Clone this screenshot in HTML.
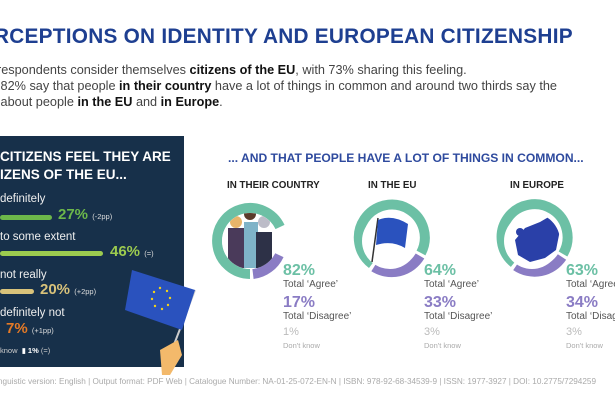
<!DOCTYPE html>
<html><head><meta charset="utf-8"><style>
body{margin:0;width:615px;height:410px;overflow:hidden;background:#fff;font-family:"Liberation Sans",sans-serif;position:relative}
.a{position:absolute;white-space:nowrap}
.t{font-size:20.8px;font-weight:bold;color:#1e3f91;left:-6px;top:25px;letter-spacing:0.25px}
.b{font-size:12.7px;color:#444;left:-3px}
.b b{color:#111}
.panel{left:0;top:136px;width:184px;height:231px;background:#17304a}
.pt{color:#fff;font-weight:bold;font-size:13.5px}
.lab{color:#eee;font-size:11.5px}
.bar{height:5px;border-radius:3px;left:0}
.pct{font-weight:bold;font-size:15px}
.sm{font-size:7.5px;color:#ddd;font-weight:normal}
.h2{color:#2e4a9e;font-weight:bold;font-size:12.1px;left:228px;top:151px}
.h3{font-weight:bold;font-size:9.8px;color:#222;top:180px}
.big{font-weight:bold;font-size:16px}
.tl{font-size:10px;color:#555}
.dk{font-size:7.5px;color:#aaa}
.foot{left:-2px;top:377px;font-size:8.2px;color:#aaa}
</style></head><body>
<div class="a t">RCEPTIONS ON IDENTITY AND EUROPEAN CITIZENSHIP</div>
<div class="a b" style="top:63px">respondents consider themselves <b>citizens of the EU</b>, with 73% sharing this feeling.</div>
<div class="a b" style="top:79px">&nbsp;82% say that people <b>in their country</b> have a lot of things in common and around two thirds say the</div>
<div class="a b" style="top:95px">&nbsp;about people <b>in the EU</b> and <b>in Europe</b>.</div>

<div class="a panel"></div>
<div class="a pt" style="left:0;top:149px">CITIZENS FEEL THEY ARE</div>
<div class="a pt" style="left:0;top:167px">IZENS OF THE EU...</div>
<div class="a lab" style="left:0;top:193px">definitely</div>
<div class="a bar" style="top:215px;width:52px;background:#6cb74a"></div>
<div class="a pct" style="left:58px;top:206px;color:#6cb74a">27% <span class="sm">(-2pp)</span></div>
<div class="a lab" style="left:0;top:231px">to some extent</div>
<div class="a bar" style="top:251px;width:103px;background:#9ccb4f"></div>
<div class="a pct" style="left:110px;top:243px;color:#9ccb4f">46% <span class="sm">(=)</span></div>
<div class="a lab" style="left:0;top:269px">not really</div>
<div class="a bar" style="top:289px;width:34px;background:#d8c27a"></div>
<div class="a pct" style="left:40px;top:281px;color:#d8c27a">20% <span class="sm">(+2pp)</span></div>
<div class="a lab" style="left:0;top:307px">definitely not</div>
<div class="a pct" style="left:6px;top:320px;color:#e57a26">7% <span class="sm">(+1pp)</span></div>
<div class="a" style="left:0;top:346px;font-size:7.5px;color:#ccc">know &nbsp;<span style="color:#fff">▮ <b>1%</b></span> (=)</div>
<svg class="a" style="left:120px;top:260px" width="80" height="120">
<line x1="75" y1="30" x2="50" y2="95" stroke="#ccc" stroke-width="2"/>
<polygon points="12,10 75,30 62,70 5,50" fill="#2a52be"/>
<g fill="#f2d21a"><circle cx="40" cy="28" r="1.2"/><circle cx="47" cy="31" r="1.2"/><circle cx="50" cy="38" r="1.2"/><circle cx="48" cy="45" r="1.2"/><circle cx="42" cy="49" r="1.2"/><circle cx="35" cy="46" r="1.2"/><circle cx="32" cy="39" r="1.2"/><circle cx="34" cy="32" r="1.2"/></g>
<path d="M40 90 L58 80 L62 95 L50 115 L42 115 Z" fill="#f3b96b"/>
</svg>

<div class="a h2">... AND THAT PEOPLE HAVE A LOT OF THINGS IN COMMON...</div>
<div class="a h3" style="left:227px">IN THEIR COUNTRY</div>
<div class="a h3" style="left:368px">IN THE EU</div>
<div class="a h3" style="left:510px">IN EUROPE</div>

<svg class="a" style="left:0;top:0" width="615" height="410">
<defs><clipPath id="c1"><circle cx="250" cy="241" r="28"/></clipPath><clipPath id="c3"><circle cx="532" cy="241" r="28"/></clipPath></defs>
<path d="M250 274 A33 33 0 1 1 280 227" fill="none" stroke="#6cc0a5" stroke-width="10"/>
<path d="M279 255 A33 33 0 0 1 253 274" fill="none" stroke="#8a7cc4" stroke-width="10"/>
<circle cx="250" cy="241" r="28" fill="#fff"/>
<g clip-path="url(#c1)"><rect x="228" y="228" width="18" height="40" fill="#4a3a5a"/><rect x="244" y="222" width="14" height="46" fill="#7fb3c8"/><rect x="256" y="232" width="16" height="36" fill="#2d3147"/><circle cx="236" cy="222" r="6" fill="#e8b46a"/><circle cx="250" cy="214" r="6" fill="#5a3b2a"/><circle cx="264" cy="222" r="6" fill="#bcbcc8"/></g>
<path d="M372 264 A33 33 0 1 1 421 253" fill="none" stroke="#6cc0a5" stroke-width="10"/>
<path d="M420 256 A33 33 0 0 1 374 267" fill="none" stroke="#8a7cc4" stroke-width="10"/>
<circle cx="390" cy="241" r="28" fill="#fff"/>
<line x1="378" y1="218" x2="372" y2="262" stroke="#333" stroke-width="1.5"/>
<path d="M378 220 Q392 214 408 224 L405 248 Q392 240 376 245 Z" fill="#2a52be"/>
<path d="M514 263 A33 33 0 1 1 563 254" fill="none" stroke="#6cc0a5" stroke-width="10"/>
<path d="M562 257 A33 33 0 0 1 516 266" fill="none" stroke="#8a7cc4" stroke-width="10"/>
<circle cx="532" cy="241" r="28" fill="#fff"/>
<g clip-path="url(#c3)"><path d="M515 240 L525 228 L540 222 L552 215 L560 230 L556 250 L545 258 L530 262 L518 255 Z" fill="#2a40a8"/><circle cx="520" cy="232" r="4" fill="#2a40a8"/></g>
</svg>

<div class="a big" style="left:283px;top:262px;color:#6cc0a5">82%</div>
<div class="a tl" style="left:283px;top:279px">Total ‘Agree’</div>
<div class="a big" style="left:283px;top:294px;color:#8a7cc4">17%</div>
<div class="a tl" style="left:283px;top:311px">Total ‘Disagree’</div>
<div class="a" style="left:283px;top:326px;font-size:11px;color:#bbb">1%</div>
<div class="a dk" style="left:283px;top:341px">Don't know</div>

<div class="a big" style="left:424px;top:262px;color:#6cc0a5">64%</div>
<div class="a tl" style="left:424px;top:279px">Total ‘Agree’</div>
<div class="a big" style="left:424px;top:294px;color:#8a7cc4">33%</div>
<div class="a tl" style="left:424px;top:311px">Total ‘Disagree’</div>
<div class="a" style="left:424px;top:326px;font-size:11px;color:#bbb">3%</div>
<div class="a dk" style="left:424px;top:341px">Don't know</div>

<div class="a big" style="left:566px;top:262px;color:#6cc0a5">63%</div>
<div class="a tl" style="left:566px;top:279px">Total ‘Agree’</div>
<div class="a big" style="left:566px;top:294px;color:#8a7cc4">34%</div>
<div class="a tl" style="left:566px;top:311px">Total ‘Disagree’</div>
<div class="a" style="left:566px;top:326px;font-size:11px;color:#bbb">3%</div>
<div class="a dk" style="left:566px;top:341px">Don't know</div>

<div class="a foot">nguistic version: English | Output format: PDF Web | Catalogue Number: NA-01-25-072-EN-N | ISBN: 978-92-68-34539-9 | ISSN: 1977-3927 | DOI: 10.2775/7294259</div>
</body></html>
